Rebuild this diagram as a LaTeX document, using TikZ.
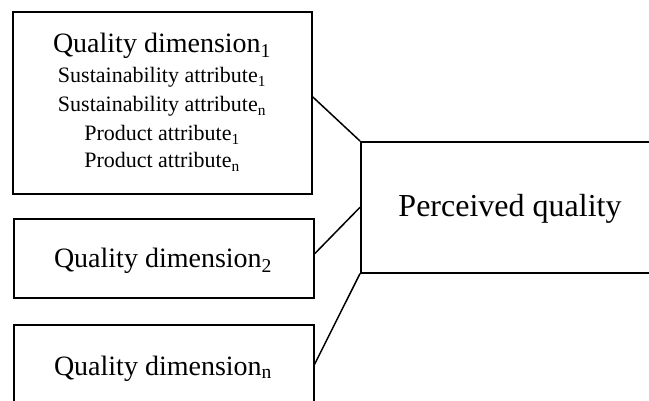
\documentclass[tikz,border=0pt]{standalone}
\usepackage{fontspec}
\setmainfont{Liberation Serif}
\begin{document}
\begin{tikzpicture}[x=1pt,y=-1pt,
  box/.style={draw,line width=1.6pt,inner sep=0pt,anchor=north west},
  link/.style={line width=1.5pt},
  big/.style={font=\fontsize{28}{30}\selectfont,anchor=base,inner sep=0pt},
  small/.style={font=\fontsize{22}{24}\selectfont,anchor=base,inner sep=0pt},
  pqtext/.style={font=\fontsize{32}{34}\selectfont,anchor=base,inner sep=0pt}]
\clip (0,0) rectangle (649,401);
% dimension boxes
\node[box,minimum width=299pt,minimum height=182pt] (b1) at (12,11) {};
\node[box,minimum width=300pt,minimum height=79pt] (b2) at (13,218) {};
\node[box,minimum width=300pt,minimum height=79pt] (b3) at (13,324) {};
% outcome box, open to the right
\node[box,minimum width=300pt,minimum height=131pt] (pq) at (360,141) {};
% texts
\node[big] (t1) at (162,53) {Quality dimension\textsubscript{1}};
\node[small] (s1) at (162,83) {Sustainability attribute\textsubscript{1}};
\node[small] (s2) at (162,112) {Sustainability attribute\textsubscript{n}};
\node[small] (s3) at (162,141) {Product attribute\textsubscript{1}};
\node[small] (s4) at (162,168) {Product attribute\textsubscript{n}};
\node[big] (t2) at (163,268) {Quality dimension\textsubscript{2}};
\node[big] (t3) at (163,375) {Quality dimension\textsubscript{n}};
\node[pqtext] (tp) at (510,217) {Perceived quality};
% connectors
\draw[link] ([yshift=6pt]b1.east) -- (pq.north west);
\draw[link] ([yshift=4.5pt]b2.east) -- (pq.west);
\draw[link] (b3.east) -- (pq.south west);
\end{tikzpicture}
\end{document}
